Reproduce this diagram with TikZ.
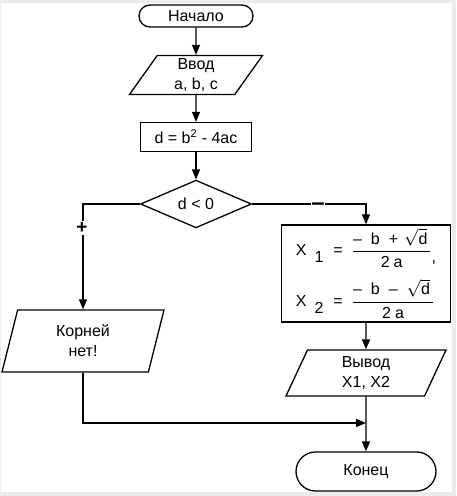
\documentclass[tikz,border=0pt]{standalone}
\usepackage{amsmath}
\usepackage{fontspec}
\setmainfont{Liberation Sans}
\usetikzlibrary{shapes.geometric,shapes.misc,arrows.meta}
\tikzset{
	every node/.style={font=\fontsize{16}{20}\selectfont},
	blk/.style={draw, line width=1.3pt, inner sep=0pt, align=center},
	term/.style={blk, rounded rectangle},
	io/.style 2 args={blk, trapezium, trapezium left angle=#1, trapezium right angle=#2, trapezium stretches body},
	proc/.style={blk, rectangle},
	cond/.style={blk, diamond},
	arr/.style={line width=1.3pt, -{Triangle[length=10pt,width=8pt]}},
	sgn/.style={fill=white, inner sep=1pt, font=\fontsize{19}{20}\selectfont\bfseries},
}
\begin{document}
\begin{tikzpicture}[x=1pt,y=-1pt]
	\fill[black!8] (0,0) rectangle (456,496);
	\fill[white] (1,3) rectangle (452,492);
	\useasboundingbox (0,0) rectangle (456,496);
	\node[term, minimum width=114pt, minimum height=22pt] at (196,16) (start) {Начало};
	\node[io={50}{130}, minimum width=133pt, minimum height=39pt] at (196,75) (in) {Ввод\\a, b, c};
	\node[proc, minimum width=111pt, minimum height=29pt] at (196,137) (disc) {d = b\textsuperscript{2} - 4ac};
	\node[cond, minimum width=111pt, minimum height=42pt] at (196,204) (test) {d < 0};
	\node[proc, minimum width=169pt, minimum height=97pt, align=left] at (366,273.5) (roots) {X\hspace{8pt}\raisebox{-7pt}{1}\hspace{10pt}=\hspace{9pt}$\dfrac{\text{–\hspace{9pt}b\hspace{9pt}+\hspace{6pt}}\sqrt{\text{d}}\hspace{3pt}}{\text{2\hspace{4pt}a}}$\raisebox{-7pt}{,}\\[10pt]X\hspace{8pt}\raisebox{-7pt}{2}\hspace{10pt}=\hspace{9pt}$\dfrac{\text{–\hspace{9pt}b\hspace{9pt}–\hspace{9pt}}\sqrt{\text{d}}\hspace{3pt}}{\text{2\hspace{4pt}a}}$\hspace{4pt}};
	\node[io={64}{116}, minimum width=162pt, minimum height=62pt] at (83,341) (none) {Корней\\нет!};
	\node[io={57}{123}, minimum width=160pt, minimum height=46pt] at (366,373) (out) {Вывод\\X1, X2};
	\node[term, minimum width=140pt, minimum height=39pt] at (366,471.5) (stop) {Конец};
	\coordinate (join) at (366,423);
	\path (start) edge[arr] (in)
	(in) edge[arr] (disc)
	(disc) edge[arr] (test)
	(roots) edge[arr] (out)
	(out) edge[arr] (stop);
	\draw[arr] (test.west) -| (none.north);
	\draw[arr] (test.east) -| (roots.north);
	\draw[arr] (none.south) |- (join);
	\node[sgn] at (82,228) (plus) {+};
	\node[sgn, inner sep=0pt, font=\fontsize{24}{24}\selectfont\bfseries, yshift=-3pt] at (318,204) (minus) {–};
\end{tikzpicture}
\end{document}
